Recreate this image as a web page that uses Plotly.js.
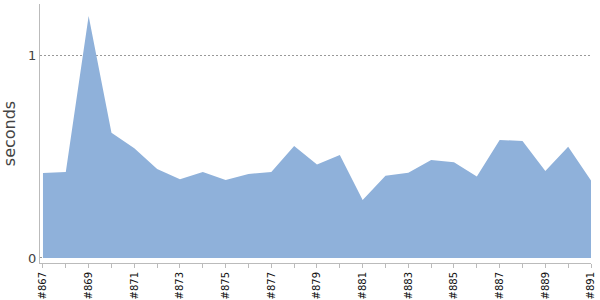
<!DOCTYPE html>
<html><head><meta charset="utf-8">
<script src="https://cdn.plot.ly/plotly-3.0.1.min.js"></script>
<style>html,body{margin:0;padding:0;background:#fff}#chart{width:600px;height:300px}</style>
</head><body><div id="chart"></div>
<script>
const builds = ['#867','#868','#869','#870','#871','#872','#873','#874','#875','#876','#877','#878','#879','#880','#881','#882','#883','#884','#885','#886','#887','#888','#889','#890','#891'];
const seconds = [0.42,0.425,1.198,0.62,0.543,0.44,0.39,0.425,0.386,0.416,0.425,0.554,0.462,0.51,0.287,0.407,0.422,0.485,0.474,0.403,0.584,0.579,0.431,0.55,0.383];
const tickLabels = builds.map((b,i)=> i%2===0 ? b : '');

Plotly.newPlot('chart', [{
  x: builds, y: seconds, type: 'scatter', mode: 'lines',
  fill: 'tozeroy', fillcolor: 'rgb(143,177,218)',
  line: {width: 0, color: 'rgb(143,177,218)'}, hoverinfo: 'none'
}], {
  width: 600, height: 300,
  margin: {l: 40, r: 9, t: 4, b: 37},
  paper_bgcolor: '#fff', plot_bgcolor: '#fff',
  showlegend: false,
  font: {family: 'DejaVu Sans, sans-serif'},
  xaxis: {
    type: 'category', range: [-0.13, 24],
    tickmode: 'array', tickvals: builds, ticktext: tickLabels,
    tickangle: -90, tickfont: {size: 10, color: '#111'},
    ticks: 'outside', ticklen: 4, tickcolor: '#bbb',
    showline: true, linecolor: '#bbb', linewidth: 1,
    showgrid: false, zeroline: false, fixedrange: true
  },
  yaxis: {
    range: [-0.025, 1.257],
    tickvals: [0, 1], ticktext: ['0', '1'],
    tickfont: {size: 13, color: '#444'},
    ticks: '', showline: true, linecolor: '#bbb', linewidth: 1,
    showgrid: true, gridcolor: '#999', griddash: '2px,2px', gridwidth: 1,
    zeroline: false,
    title: {text: 'seconds', font: {size: 16, color: '#444'}, standoff: 9}
  }
}, {staticPlot: true});
</script></body></html>
